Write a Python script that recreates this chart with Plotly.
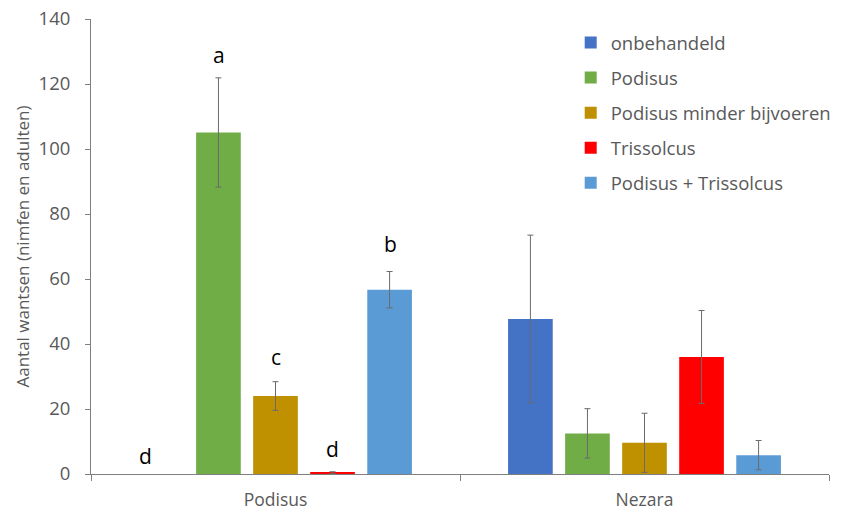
import plotly.graph_objects as go

categories = ["Podisus", "Nezara"]
series_names = ["onbehandeld", "Podisus", "Podisus minder bijvoeren", "Trissolcus", "Podisus + Trissolcus"]
colors = ["#4472C4", "#70AD47", "#BF9000", "#FF0000", "#5B9BD5"]

# mean counts per treatment: [Podisus, Nezara]; None = no bar (zero count)
means = [
    [None, 47.7],
    [105.1, 12.5],
    [24.0, 9.6],
    [0.4, 36.0],
    [56.7, 5.8],
]
# error bar half-widths
errors = [
    [0.0, 25.8],
    [16.8, 7.6],
    [4.4, 9.1],
    [0.3, 14.3],
    [5.6, 4.5],
]

# significance letters for the Podisus group (series index, letter, label height)
letters = [(0, "d", 5.5), (1, "a", 129.0), (2, "c", 36.0), (3, "d", 7.7), (4, "b", 70.9)]
letter_shift = [-130, -57, 0, 57, 115]

font_family = "Open Sans, Arial"
grey = "#595959"

fig = go.Figure()
for name, color, m, e in zip(series_names, colors, means, errors):
    fig.add_trace(go.Bar(
        name=name,
        x=categories,
        y=m,
        marker=dict(color=color, line=dict(width=0)),
        error_y=dict(type="data", array=e, visible=True, color="#6b6b6b", thickness=1, width=3),
        legendgroup=name,
    ))

for idx, txt, yv in letters:
    fig.add_annotation(
        x="Podisus", y=yv, text=txt, showarrow=False,
        xshift=letter_shift[idx], yanchor="middle",
        font=dict(family=font_family, size=21, color="#000000"),
    )

fig.update_layout(
    width=848, height=515,
    margin=dict(l=91, r=12, t=19, b=41),
    plot_bgcolor="white", paper_bgcolor="white",
    barmode="group",
    bargap=0.227, bargroupgap=0.217,
    showlegend=True,
    legend=dict(
        x=0.650, y=0.989, xanchor="left", yanchor="top",
        font=dict(family=font_family, size=18.5, color=grey),
        traceorder="grouped", tracegroupgap=8,
        bgcolor="rgba(0,0,0,0)",
    ),
    xaxis=dict(
        automargin=False,
        showline=True, linecolor="#7f7f7f", linewidth=1,
        ticks="outside", tickson="boundaries", ticklen=6, tickcolor="#7f7f7f",
        tickfont=dict(family=font_family, size=17.5, color=grey),
        ticklabelstandoff=10,
        showgrid=False,
    ),
    yaxis=dict(
        automargin=False,
        range=[0, 140], dtick=20,
        showline=True, linecolor="#7f7f7f", linewidth=1,
        ticks="outside", ticklen=5, tickcolor="#7f7f7f",
        tickfont=dict(family=font_family, size=18.5, color=grey),
        ticklabelstandoff=11,
        showgrid=False, zeroline=False,
        title=dict(text="Aantal wantsen (nimfen en adulten)",
                   font=dict(family=font_family, size=17, color=grey),
                   standoff=4),
    ),
)

fig.write_html("out.html")
